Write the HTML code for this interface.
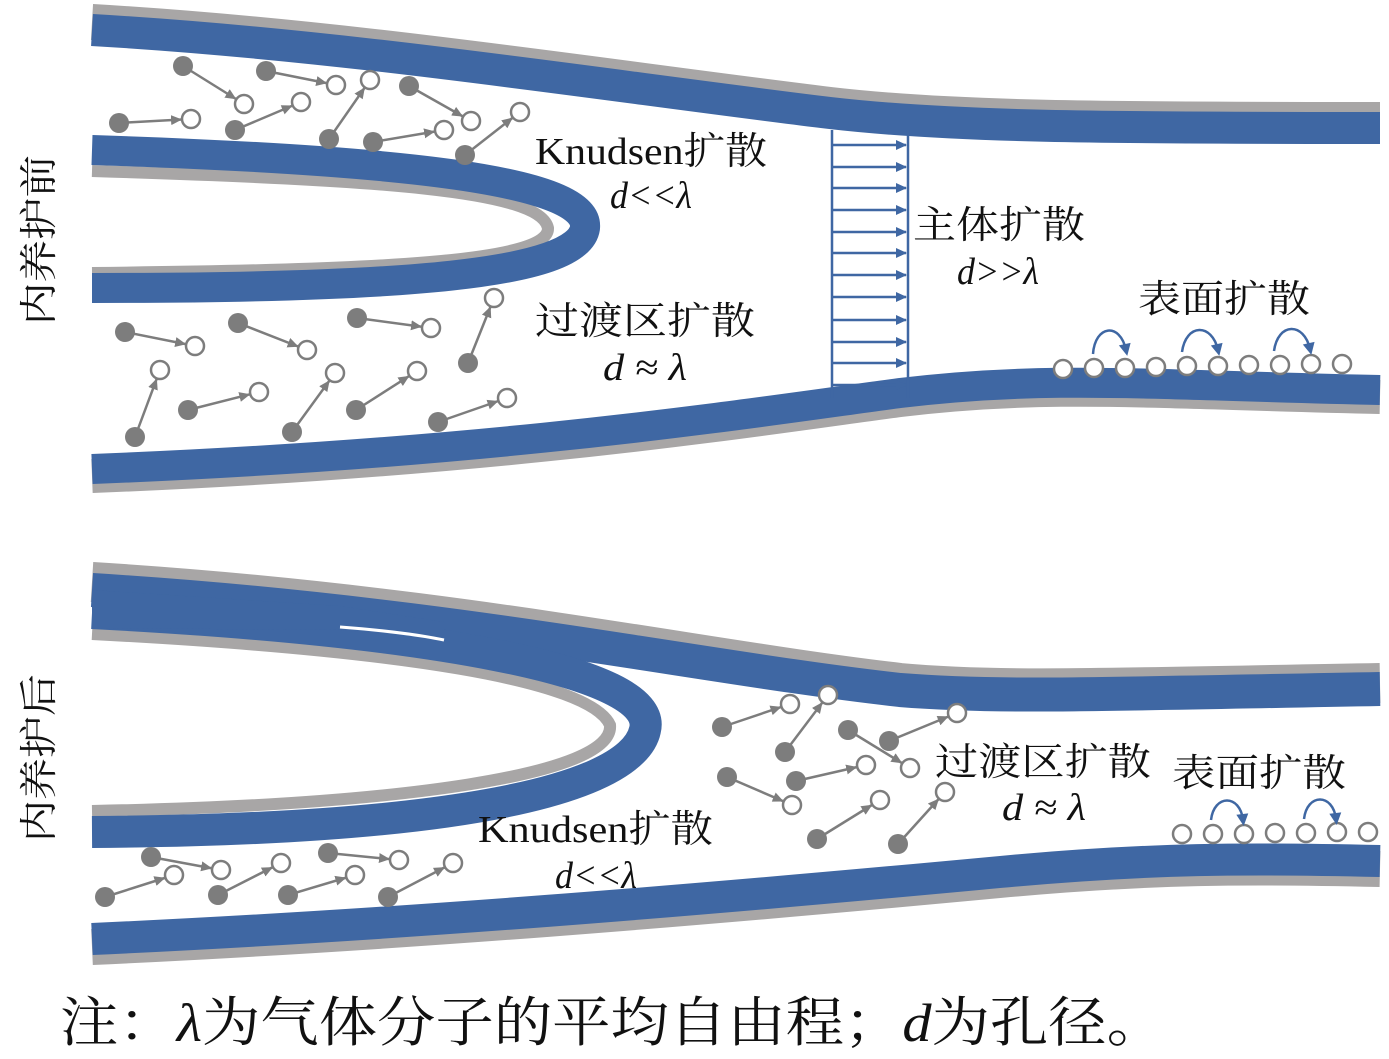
<!DOCTYPE html>
<html><head><meta charset="utf-8"><style>
html,body{margin:0;padding:0;background:#fff}
svg{display:block}
text{font-family:"Liberation Serif","Noto Serif CJK SC",serif;fill:#111}
</style></head><body>
<svg width="1389" height="1059" viewBox="0 0 1389 1059" xmlns="http://www.w3.org/2000/svg">
<defs>
<marker id="ga" markerUnits="userSpaceOnUse" markerWidth="30" markerHeight="14" viewBox="0 0 30 14" refX="20" refY="7" orient="auto"><path d="M0,2 L11,7 L0,12 Z" fill="#7d7d7d"/></marker>
<marker id="ba" markerUnits="userSpaceOnUse" markerWidth="12" markerHeight="12" viewBox="0 0 12 12" refX="10" refY="6" orient="auto"><path d="M0,1 L11,6 L0,11 Z" fill="#3f67a3"/></marker>
<marker id="ca" markerUnits="userSpaceOnUse" markerWidth="14" markerHeight="14" viewBox="0 0 14 14" refX="7" refY="7" orient="auto"><path d="M1,1 L13,7 L1,13 Z" fill="#3f67a3"/></marker>
</defs>
<g fill="none" stroke-linecap="butt">
<path d="M92,22 C350,37 600,77 830,105 C950,119 1100,120 1380,120" stroke="#a8a6a6" stroke-width="36"/>
<path d="M92,30 C350,45 600,85 830,113 C950,127 1100,128 1380,128" stroke="#3f67a3" stroke-width="32"/>
<path d="M92,171 C380,180 540,190 548,228 C550,262 380,270 92,273" stroke="#a8a6a6" stroke-width="12"/>
<path d="M92,150 C400,160 590,180 585,228 C578,275 400,288 92,288" stroke="#3f67a3" stroke-width="30"/>
<path d="M92,476 C500,460 750,420 900,400 C1050,382 1150,392 1380,397" stroke="#a8a6a6" stroke-width="34"/>
<path d="M92,469 C500,453 750,413 900,393 C1050,375 1150,385 1380,390" stroke="#3f67a3" stroke-width="30"/>

<path d="M92,582 C450,604 700,660 900,683 C1000,692 1100,688 1380,683" stroke="#a8a6a6" stroke-width="40"/>
<path d="M92,590 C450,612 700,668 900,690 C1000,698 1100,694 1380,689" stroke="#3f67a3" stroke-width="34"/>
<path d="M92,634 C400,650 590,680 610,725 C615,775 400,805 92,811" stroke="#a8a6a6" stroke-width="12"/>
<path d="M92,613 C420,630 660,670 645,730 C630,800 400,830 92,832" stroke="#3f67a3" stroke-width="32"/>
<path d="M92,947 C400,933 700,908 1000,880 C1150,866 1250,866 1380,869" stroke="#a8a6a6" stroke-width="36"/>
<path d="M92,939 C400,925 700,900 1000,872 C1150,858 1250,858 1380,861" stroke="#3f67a3" stroke-width="32"/>
</g>
<polygon points="92,590 340,606 444,622 444,640 340,630 92,628" fill="#3f67a3"/>
<path d="M340,627 C380,630 420,635 444,640" stroke="#fff" stroke-width="3" fill="none"/>

<g stroke="#3f67a3" stroke-width="2.5" fill="none">
<line x1="832" y1="130" x2="832" y2="398"/>
<line x1="908" y1="130" x2="908" y2="398"/>
<g marker-end="url(#ba)">
<line x1="832" y1="145" x2="906" y2="145"/><line x1="832" y1="167" x2="906" y2="167"/>
<line x1="832" y1="188" x2="906" y2="188"/><line x1="832" y1="210" x2="906" y2="210"/>
<line x1="832" y1="232" x2="906" y2="232"/><line x1="832" y1="253" x2="906" y2="253"/>
<line x1="832" y1="275" x2="906" y2="275"/><line x1="832" y1="297" x2="906" y2="297"/>
<line x1="832" y1="320" x2="906" y2="320"/><line x1="832" y1="342" x2="906" y2="342"/>
<line x1="832" y1="363" x2="906" y2="363"/><line x1="832" y1="385" x2="906" y2="385"/>
</g></g>

<g stroke="#7d7d7d" stroke-width="2.5" marker-end="url(#ga)">
<line x1="183" y1="66" x2="244" y2="104"/><line x1="266" y1="71" x2="336" y2="85"/>
<line x1="119" y1="123" x2="191" y2="119"/><line x1="235" y1="130" x2="301" y2="102"/>
<line x1="329" y1="139" x2="370" y2="80"/><line x1="409" y1="86" x2="471" y2="121"/>
<line x1="373" y1="142" x2="444" y2="130"/><line x1="465" y1="155" x2="520" y2="112"/>
<line x1="125" y1="332" x2="195" y2="346"/><line x1="238" y1="323" x2="307" y2="350"/>
<line x1="357" y1="318" x2="431" y2="328"/><line x1="468" y1="363" x2="494" y2="298"/>
<line x1="135" y1="437" x2="160" y2="370"/><line x1="188" y1="410" x2="259" y2="392"/>
<line x1="292" y1="432" x2="335" y2="373"/><line x1="356" y1="410" x2="417" y2="371"/>
<line x1="438" y1="422" x2="507" y2="398"/>
<line x1="151" y1="857" x2="221" y2="870"/><line x1="105" y1="897" x2="174" y2="875"/>
<line x1="218" y1="895" x2="281" y2="863"/><line x1="288" y1="895" x2="355" y2="875"/>
<line x1="328" y1="853" x2="399" y2="860"/><line x1="388" y1="897" x2="453" y2="863"/>
<line x1="722" y1="727" x2="790" y2="704"/><line x1="785" y1="752" x2="828" y2="695"/>
<line x1="848" y1="730" x2="910" y2="768"/><line x1="889" y1="741" x2="957" y2="713"/>
<line x1="727" y1="777" x2="792" y2="805"/><line x1="796" y1="781" x2="866" y2="765"/>
<line x1="817" y1="839" x2="880" y2="800"/><line x1="898" y1="844" x2="945" y2="792"/>
</g>
<g fill="#7d7d7d">
<circle cx="183" cy="66" r="10"/><circle cx="266" cy="71" r="10"/><circle cx="119" cy="123" r="10"/><circle cx="235" cy="130" r="10"/>
<circle cx="329" cy="139" r="10"/><circle cx="409" cy="86" r="10"/><circle cx="373" cy="142" r="10"/><circle cx="465" cy="155" r="10"/>
<circle cx="125" cy="332" r="10"/><circle cx="238" cy="323" r="10"/><circle cx="357" cy="318" r="10"/><circle cx="468" cy="363" r="10"/>
<circle cx="135" cy="437" r="10"/><circle cx="188" cy="410" r="10"/><circle cx="292" cy="432" r="10"/><circle cx="356" cy="410" r="10"/><circle cx="438" cy="422" r="10"/>
<circle cx="151" cy="857" r="10"/><circle cx="105" cy="897" r="10"/><circle cx="218" cy="895" r="10"/><circle cx="288" cy="895" r="10"/><circle cx="328" cy="853" r="10"/><circle cx="388" cy="897" r="10"/>
<circle cx="722" cy="727" r="10"/><circle cx="785" cy="752" r="10"/><circle cx="848" cy="730" r="10"/><circle cx="889" cy="741" r="10"/>
<circle cx="727" cy="777" r="10"/><circle cx="796" cy="781" r="10"/><circle cx="817" cy="839" r="10"/><circle cx="898" cy="844" r="10"/>
</g>
<g fill="#fff" stroke="#7d7d7d" stroke-width="2.5">
<circle cx="244" cy="104" r="9"/><circle cx="336" cy="85" r="9"/><circle cx="191" cy="119" r="9"/><circle cx="301" cy="102" r="9"/>
<circle cx="370" cy="80" r="9"/><circle cx="471" cy="121" r="9"/><circle cx="444" cy="130" r="9"/><circle cx="520" cy="112" r="9"/>
<circle cx="195" cy="346" r="9"/><circle cx="307" cy="350" r="9"/><circle cx="431" cy="328" r="9"/><circle cx="494" cy="298" r="9"/>
<circle cx="160" cy="370" r="9"/><circle cx="259" cy="392" r="9"/><circle cx="335" cy="373" r="9"/><circle cx="417" cy="371" r="9"/><circle cx="507" cy="398" r="9"/>
<circle cx="221" cy="870" r="9"/><circle cx="174" cy="875" r="9"/><circle cx="281" cy="863" r="9"/><circle cx="355" cy="875" r="9"/><circle cx="399" cy="860" r="9"/><circle cx="453" cy="863" r="9"/>
<circle cx="790" cy="704" r="9"/><circle cx="828" cy="695" r="9"/><circle cx="910" cy="768" r="9"/><circle cx="957" cy="713" r="9"/>
<circle cx="792" cy="805" r="9"/><circle cx="866" cy="765" r="9"/><circle cx="880" cy="800" r="9"/><circle cx="945" cy="792" r="9"/>
<circle cx="1063" cy="369" r="9"/><circle cx="1094" cy="368" r="9"/><circle cx="1125" cy="368" r="9"/><circle cx="1156" cy="367" r="9"/><circle cx="1187" cy="366" r="9"/>
<circle cx="1218" cy="366" r="9"/><circle cx="1249" cy="365" r="9"/><circle cx="1280" cy="365" r="9"/><circle cx="1311" cy="364" r="9"/><circle cx="1342" cy="364" r="9"/>
<circle cx="1182" cy="834" r="9"/><circle cx="1213" cy="834" r="9"/><circle cx="1244" cy="834" r="9"/><circle cx="1275" cy="833" r="9"/><circle cx="1306" cy="833" r="9"/><circle cx="1337" cy="832" r="9"/><circle cx="1368" cy="832" r="9"/>
</g>
<g fill="none" stroke="#3f67a3" stroke-width="2.5" marker-end="url(#ca)">
<path d="M1093,354 C1095,325 1120,322 1126,350"/>
<path d="M1182,352 C1186,323 1212,323 1218,350"/>
<path d="M1274,351 C1278,322 1304,322 1310,349"/>
<path d="M1211,820 C1214,794 1240,794 1243,820"/>
<path d="M1304,819 C1307,793 1333,793 1336,819"/>
</g>

<g font-size="38">
<text x="535" y="164" textLength="232" lengthAdjust="spacingAndGlyphs">Knudsen扩散</text>
<text x="610" y="208" font-style="italic" textLength="82" lengthAdjust="spacingAndGlyphs">d&lt;&lt;λ</text>
<text x="535" y="334" textLength="220" lengthAdjust="spacingAndGlyphs">过渡区扩散</text>
<text x="603" y="380" font-style="italic" textLength="84" lengthAdjust="spacingAndGlyphs">d ≈ λ</text>
<text x="913" y="238" textLength="172" lengthAdjust="spacingAndGlyphs">主体扩散</text>
<text x="957" y="284" font-style="italic" textLength="82" lengthAdjust="spacingAndGlyphs">d&gt;&gt;λ</text>
<text x="1138" y="312" textLength="172" lengthAdjust="spacingAndGlyphs">表面扩散</text>
<text x="935" y="775" textLength="216" lengthAdjust="spacingAndGlyphs">过渡区扩散</text>
<text x="1002" y="820" font-style="italic" textLength="84" lengthAdjust="spacingAndGlyphs">d ≈ λ</text>
<text x="1172" y="786" textLength="174" lengthAdjust="spacingAndGlyphs">表面扩散</text>
<text x="478" y="842" textLength="235" lengthAdjust="spacingAndGlyphs">Knudsen扩散</text>
<text x="555" y="888" font-style="italic" textLength="82" lengthAdjust="spacingAndGlyphs">d&lt;&lt;λ</text>
<text transform="translate(52,325) rotate(-90)" textLength="170" lengthAdjust="spacingAndGlyphs">内养护前</text>
<text transform="translate(52,842) rotate(-90)" textLength="168" lengthAdjust="spacingAndGlyphs">内养护后</text>
</g>
<text x="60" y="1041" font-size="54" textLength="1105" lengthAdjust="spacingAndGlyphs">注：<tspan font-style="italic">λ</tspan>为气体分子的平均自由程；<tspan font-style="italic">d</tspan>为孔径。</text>
</svg>
</body></html>
